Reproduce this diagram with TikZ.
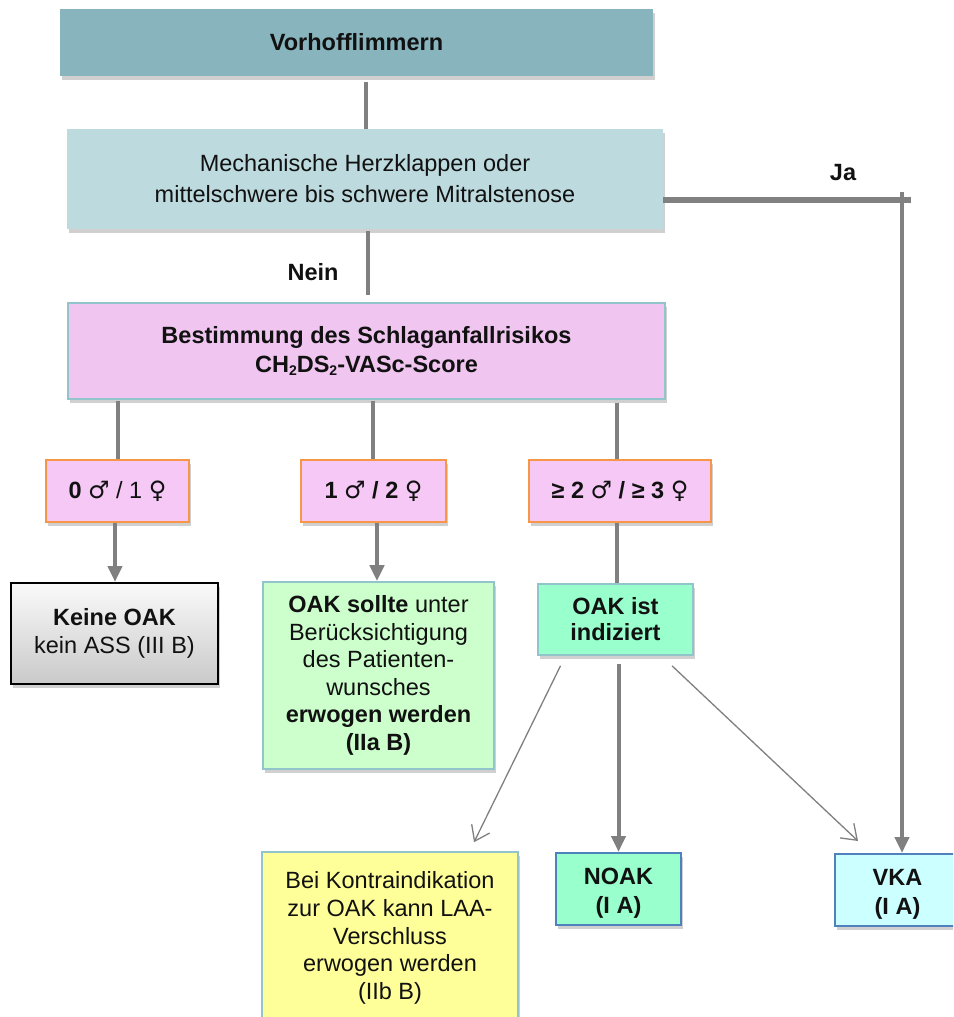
\documentclass[tikz,border=0pt]{standalone}
\usepackage{fontspec}
\setmainfont{Liberation Sans}
\newfontfamily\symfont{DejaVu Sans}
\usetikzlibrary{arrows.meta,shadows,calc}
\definecolor{cVor}{HTML}{87B4BD}
\definecolor{cMech}{HTML}{BDDADF}
\definecolor{cBest}{HTML}{F0C6F0}
\definecolor{cScore}{HTML}{F5C8F5}
\definecolor{cOrange}{HTML}{F79646}
\definecolor{cTeal}{HTML}{92C4CB}
\definecolor{cGreen}{HTML}{CCFFCC}
\definecolor{cAqua}{HTML}{99FFCC}
\definecolor{cYellow}{HTML}{FFFF99}
\definecolor{cCyan}{HTML}{CCFFFF}
\definecolor{cBlue}{HTML}{4F81BD}
\definecolor{cLine}{HTML}{808080}
\definecolor{cText}{HTML}{111111}
\newcommand{\msym}{{\symfont\fontsize{24}{24}\selectfont ♂}}
\newcommand{\fsym}{{\symfont\fontsize{24}{24}\selectfont ♀}}
\newcommand{\subtwo}{\raisebox{-2.5pt}{\fontsize{14}{14}\selectfont 2}}
\tikzset{
  box/.style={rectangle, align=center, inner sep=2pt, text=cText,
    font=\fontsize{23.5}{28}\selectfont,
    drop shadow={shadow xshift=1.5pt, shadow yshift=-4pt, opacity=0.3, fill=black!60}},
  thickline/.style={draw=cLine, line width=4pt},
  thickarrow/.style={draw=cLine, line width=4pt, -{Triangle[width=14pt,length=16pt]}},
  thinarrow/.style={draw=cLine, line width=1.3pt, -{Straight Barb[width=20pt,length=14pt,line width=1.3pt]}},
  lbl/.style={font=\fontsize{23.5}{28}\selectfont\bfseries, text=cText, inner sep=0pt}
}
\begin{document}
\begin{tikzpicture}[x=1pt,y=-1pt]
\useasboundingbox (0,0) rectangle (953,1017);
\clip (0,0) rectangle (953,1017);
\fill[white] (0,0) rectangle (953,1017);

% nodes
\node[box, fill=cVor, minimum width=593pt, minimum height=67pt, font=\fontsize{23.5}{28}\selectfont\bfseries]
  (vor) at (356.5,42.5) {Vorhofflimmern};
\node[box, fill=cMech, minimum width=596pt, minimum height=100pt, font=\fontsize{23.5}{31}\selectfont]
  (mech) at (365,179) {Mechanische Herzklappen oder\\mittelschwere bis schwere Mitralstenose};
\node[box, fill=cBest, draw=cTeal, line width=1.3pt, minimum width=597pt, minimum height=96pt, font=\fontsize{23.5}{29}\selectfont\bfseries]
  (best) at (366.5,351) {Bestimmung des Schlaganfallrisikos\\CH\subtwo DS\subtwo-VASc-Score};

\node[box, fill=cScore, draw=cOrange, line width=1.6pt, minimum width=143pt, minimum height=62pt]
  (s1) at (117.5,491) {\textbf{0} \msym{} / 1 \fsym};
\node[box, fill=cScore, draw=cOrange, line width=1.6pt, minimum width=145pt, minimum height=62pt]
  (s2) at (373.5,491) {\textbf{1} \msym{} \textbf{/ 2} \fsym};
\node[box, fill=cScore, draw=cOrange, line width=1.6pt, minimum width=182pt, minimum height=62pt]
  (s3) at (620,491) {\textbf{≥ 2} \msym{} \textbf{/ ≥ 3} \fsym};

\node[box, top color=gray!4, bottom color=gray!42, draw=black, line width=2pt, minimum width=207pt, minimum height=101pt]
  (keine) at (114.5,633.5) {\textbf{Keine OAK}\\kein ASS (III B)};
\node[box, fill=cGreen, draw=cTeal, line width=1.6pt, minimum width=231pt, minimum height=187pt, font=\fontsize{23.5}{27.6}\selectfont]
  (green) at (378.5,675.5) {\textbf{OAK sollte} unter\\Berücksichtigung\\des Patienten-\\wunsches\\\textbf{erwogen werden}\\\textbf{(IIa B)}};
\node[box, fill=cAqua, draw=cTeal, line width=1.6pt, minimum width=155pt, minimum height=71pt, font=\fontsize{23.5}{26}\selectfont\bfseries]
  (oak) at (615.5,619.5) {OAK ist\\indiziert};

\node[box, fill=cYellow, draw=cTeal, line width=1.6pt, minimum width=256pt, minimum height=172pt, font=\fontsize{23.5}{27.7}\selectfont]
  (yellow) at (390,938) {Bei Kontraindikation\\zur OAK kann LAA-\\Verschluss\\erwogen werden\\(IIb B)};
\node[box, fill=cAqua, draw=cBlue, line width=2pt, minimum width=125pt, minimum height=72pt, font=\fontsize{23.5}{29}\selectfont\bfseries]
  (noak) at (618.5,889) {\raisebox{-10pt}[0pt][0pt]{\begin{tabular}{@{}c@{}}NOAK\\(I A)\end{tabular}}};
\node[box, fill=cCyan, draw=cBlue, line width=2pt, minimum width=125pt, minimum height=72pt, font=\fontsize{23.5}{29}\selectfont\bfseries]
  (vka) at (897.5,890) {\raisebox{-10pt}[0pt][0pt]{\begin{tabular}{@{}c@{}}VKA\\(I A)\end{tabular}}};

% labels
\node[lbl] (ja) at (843,173) {Ja};
\node[lbl] (nein) at (313,272) {Nein};

% connectors
\draw[thickline, shorten <=6pt] (vor.south -| 366,0) -- (mech.north -| 366,0);
\draw[thickline, shorten <=2pt, shorten >=7pt] (mech.south -| 368,0) -- (best.north -| 368,0);

\coordinate (jaend) at (911,200);
\coordinate (jatop) at (902,192);
\draw[draw=cLine, line width=6pt] (mech.east |- jaend) -- (jaend);
\draw[thickarrow] (jatop) -- (jatop |- vka.north);

\draw[thickline, shorten <=1pt] (s1.north |- best.south) -- (s1.north);
\draw[thickline, shorten <=1pt] (373,0 |- best.south) -- (373,0 |- s2.north);
\draw[thickline, shorten <=3pt] (617,0 |- best.south) -- (617,0 |- s3.north);

\draw[thickarrow] (115,0 |- s1.south) -- (115,0 |- keine.north);
\draw[thickarrow] (377,0 |- s2.south) -- (377,0 |- green.north);
\draw[thickline] (617,0 |- s3.south) -- (617,0 |- oak.north);

\draw[thickarrow, shorten <=8pt] (oak.south -| noak.north) -- (noak.north);
\draw[thinarrow] ([xshift=-55pt,yshift=-10pt]oak.south) -- ([xshift=84pt,yshift=9pt]yellow.north);
\draw[thinarrow] ([xshift=56.5pt,yshift=-10pt]oak.south) -- ([xshift=-39.5pt,yshift=12pt]vka.north);
\end{tikzpicture}
\end{document}
